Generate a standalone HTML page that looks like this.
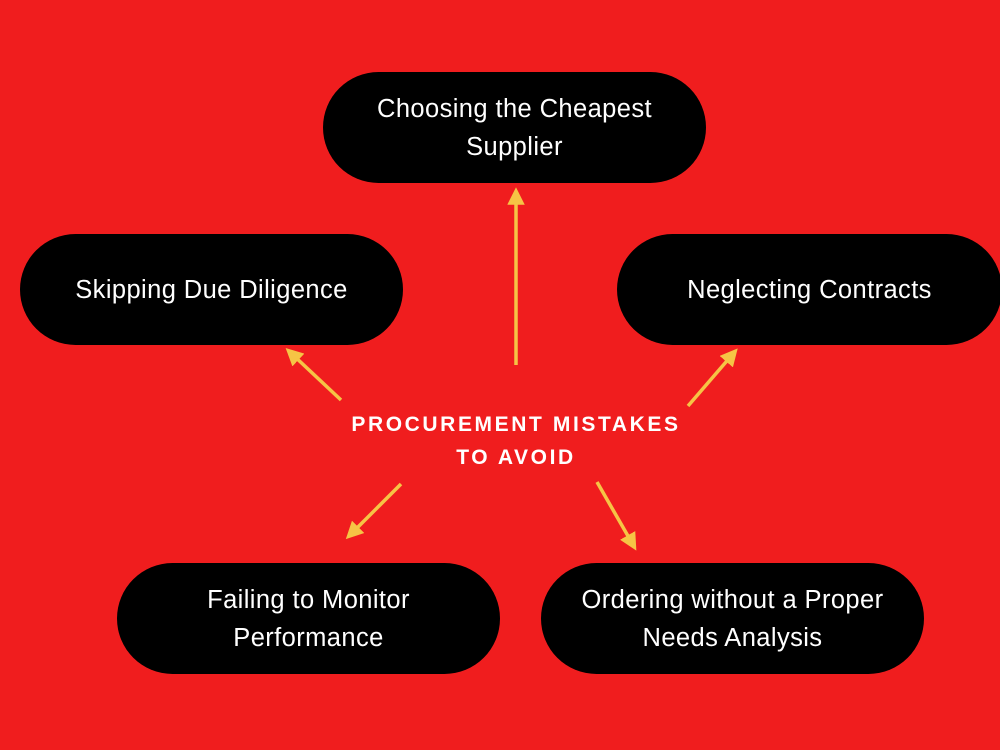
<!DOCTYPE html>
<html><head><style>
body{margin:0;width:1000px;height:750px;background:#f01d1e;position:relative;overflow:hidden;font-family:"Liberation Sans",sans-serif}
.b{position:absolute;width:383px;height:111px;border-radius:56px;background:#000;color:#fff;display:flex;align-items:center;justify-content:center;text-align:center;font-size:25.5px;line-height:38px;letter-spacing:0.4px}
.t{position:absolute;left:266px;width:500px;text-align:center;color:#fff;font-weight:bold;font-size:21px;letter-spacing:2.6px;line-height:33px;top:408px}
svg{position:absolute;left:0;top:0}
</style></head><body>
<div class="b" style="left:323px;top:72px">Choosing the Cheapest<br>Supplier</div>
<div class="b" style="left:20px;top:234px">Skipping Due Diligence</div>
<div class="b" style="left:617px;top:234px;width:385px">Neglecting Contracts</div>
<div class="b" style="left:117px;top:563px">Failing to Monitor<br>Performance</div>
<div class="b" style="left:541px;top:563px">Ordering without a Proper<br>Needs Analysis</div>
<div class="t">PROCUREMENT MISTAKES<br>TO AVOID</div>
<svg width="1000" height="750">
<defs><marker id="a" markerWidth="5" markerHeight="5" refX="2.5" refY="2.5" orient="auto" markerUnits="strokeWidth"><path d="M0,0L5,2.5L0,5z" fill="#f6c445"/></marker></defs>
<g stroke="#f6c445" stroke-width="3.5" marker-end="url(#a)">
<line x1="516" y1="365" x2="516" y2="196"/>
<line x1="341" y1="400" x2="292" y2="354"/>
<line x1="688" y1="406" x2="732" y2="355"/>
<line x1="401" y1="484" x2="352" y2="533"/>
<line x1="597" y1="482" x2="632" y2="543"/>
</g></svg>
</body></html>
